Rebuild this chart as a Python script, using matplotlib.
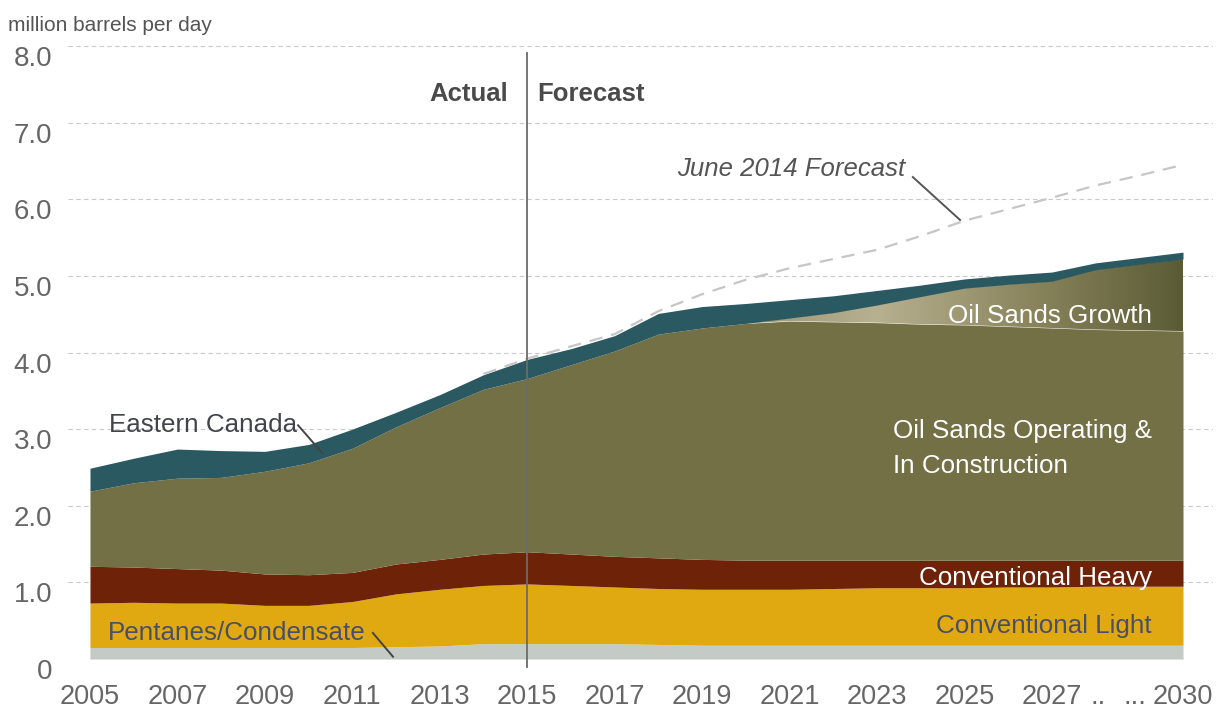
import numpy as np
import matplotlib.pyplot as plt
from matplotlib.colors import LinearSegmentedColormap
from matplotlib.patches import Polygon

years = np.arange(2005, 2031)

# million barrels per day, stacked bottom to top
pentanes = [0.15, 0.15, 0.15, 0.15, 0.15, 0.15, 0.15, 0.16, 0.17, 0.20, 0.20, 0.20, 0.20,
            0.19, 0.18, 0.18, 0.18, 0.18, 0.18, 0.18, 0.18, 0.18, 0.18, 0.18, 0.18, 0.18]
conv_light = [0.58, 0.59, 0.58, 0.58, 0.55, 0.55, 0.60, 0.69, 0.74, 0.76, 0.78, 0.76, 0.74,
              0.73, 0.73, 0.73, 0.73, 0.74, 0.75, 0.75, 0.75, 0.76, 0.76, 0.77, 0.77, 0.77]
conv_heavy = [0.48, 0.46, 0.45, 0.43, 0.41, 0.40, 0.38, 0.39, 0.39, 0.41, 0.42, 0.41, 0.40,
              0.40, 0.39, 0.38, 0.38, 0.37, 0.36, 0.36, 0.36, 0.35, 0.35, 0.34, 0.34, 0.34]
os_operating = [0.98, 1.10, 1.18, 1.21, 1.34, 1.46, 1.62, 1.79, 1.98, 2.15, 2.26, 2.47, 2.68,
                2.92, 3.02, 3.09, 3.12, 3.11, 3.10, 3.08, 3.07, 3.05, 3.03, 3.01, 3.00, 2.99]
os_growth = [0, 0, 0, 0, 0, 0, 0, 0, 0, 0, 0, 0, 0,
             0, 0, 0, 0.04, 0.12, 0.23, 0.36, 0.48, 0.55, 0.61, 0.78, 0.86, 0.94]
eastern = [0.30, 0.32, 0.38, 0.35, 0.26, 0.24, 0.25, 0.19, 0.17, 0.19, 0.25, 0.21, 0.20,
           0.27, 0.28, 0.26, 0.24, 0.22, 0.19, 0.15, 0.12, 0.12, 0.12, 0.09, 0.09, 0.09]

june2014_years = np.arange(2014, 2031)
june2014 = [3.72, 3.92, 4.08, 4.24, 4.54, 4.76, 4.95, 5.10, 5.22, 5.34, 5.52, 5.72, 5.87,
            6.02, 6.18, 6.31, 6.45]

xtick_years = [2005, 2007, 2009, 2011, 2013, 2015, 2017, 2019, 2021, 2023, 2025, 2027, 2030]
yticks = [0, 1, 2, 3, 4, 5, 6, 7, 8]
ytick_labels = ['0', '1.0', '2.0', '3.0', '4.0', '5.0', '6.0', '7.0', '8.0']

FONT = ['Liberation Sans', 'DejaVu Sans']

layers = [
    (pentanes, '#c4cbc6'),
    (conv_light, '#e0a811'),
    (conv_heavy, '#6e2208'),
    (os_operating, '#737046'),
    (os_growth, None),
    (eastern, '#2b5962'),
]

fig = plt.figure(figsize=(12.21, 7.11), dpi=100)
ax = fig.add_axes([68 / 1221, 1 - 659 / 711, 1145 / 1221, 616.8 / 711])
ax.set_xlim(2004.497, 2030.686)
ax.set_ylim(0, 8.05)

bottom = np.zeros(len(years))
for vals, col in layers:
    top = bottom + np.array(vals)
    if col is None:
        # oil sands growth: horizontal gradient clipped to the band
        verts = np.column_stack([np.concatenate([years, years[::-1]]),
                                 np.concatenate([top, bottom[::-1]])])
        poly = Polygon(verts, closed=True, facecolor='none', edgecolor='none')
        ax.add_patch(poly)
        cmap = LinearSegmentedColormap.from_list(
            'growth', [(0, '#9d9674'), (0.3, '#b7b091'), (0.65, '#8a855d'), (1, '#5a5b35')])
        im = ax.imshow(np.linspace(0, 1, 256).reshape(1, -1), cmap=cmap, aspect='auto',
                       extent=[2020, 2030, 0, 8], zorder=2, interpolation='bilinear')
        im.set_clip_path(poly)
    else:
        ax.fill_between(years, bottom, top, color=col, lw=0, zorder=2)
    bottom = top

ax.plot([2005, 2030], [0, 0], color='#d9b48c', lw=1, zorder=3)

ax.plot(june2014_years, june2014, color='#c6c6c6', lw=1.6, ls=(0, (6, 4)), zorder=3)

# actual / forecast split
ax.plot([2015, 2015], [-0.10, 7.91], color='#6b6b6b', lw=1.3, zorder=4, clip_on=False)
ax.text(2014.56, 7.28, 'Actual', ha='right', va='baseline', fontsize=18.5,
        fontweight='bold', color='#4a4a4a', family=FONT)
ax.text(2015.22, 7.28, 'Forecast', ha='left', va='baseline', fontsize=18.5,
        fontweight='bold', color='#4a4a4a', family=FONT)

ax.text(2018.43, 6.31, 'June 2014 Forecast', ha='left', va='baseline', fontsize=18.5,
        style='italic', color='#555555', family=FONT)
ax.plot([2023.82, 2024.9], [6.29, 5.73], color='#555555', lw=1.4, zorder=5)

ax.text(2005.43, 2.96, 'Eastern Canada', ha='left', va='baseline', fontsize=18.7,
        color='#3f454a', family=FONT, zorder=5)
ax.plot([2009.76, 2010.31], [3.05, 2.69], color='#444444', lw=1.4, zorder=5)

ax.text(2005.41, 0.25, 'Pentanes/Condensate', ha='left', va='baseline', fontsize=18.7,
        color='#4a5064', family=FONT, zorder=5)
ax.plot([2011.47, 2011.93], [0.34, 0.03], color='#444444', lw=1.4, zorder=5)

ax.text(2023.37, 2.88, 'Oil Sands Operating &', ha='left', va='baseline', fontsize=18.7,
        color='white', family=FONT, zorder=5)
ax.text(2023.37, 2.43, 'In Construction', ha='left', va='baseline', fontsize=18.7,
        color='white', family=FONT, zorder=5)
ax.text(2029.29, 4.39, 'Oil Sands Growth', ha='right', va='baseline', fontsize=18.7,
        color='white', family=FONT, zorder=5)
ax.text(2029.28, 0.97, 'Conventional Heavy', ha='right', va='baseline', fontsize=18.7,
        color='white', family=FONT, zorder=5)
ax.text(2029.28, 0.34, 'Conventional Light', ha='right', va='baseline', fontsize=18.7,
        color='#4a5064', family=FONT, zorder=5)

# axes styling
for s in ax.spines.values():
    s.set_visible(False)
ax.set_axisbelow(True)
ax.set_yticks(yticks)
ax.set_yticklabels(ytick_labels, family=FONT, fontsize=20, color='#666666')
for lab in ax.get_yticklabels():
    lab.set_verticalalignment('top')
ax.yaxis.grid(True, color='#c9c9c9', ls=(0, (4, 3)), lw=0.8)
ax.yaxis.get_gridlines()[0].set_visible(False)
ax.set_xticks(xtick_years)
ax.set_xticklabels([str(y) for y in xtick_years], family=FONT, fontsize=19.5,
                   color='#666666')
ax.tick_params(axis='y', length=0, pad=11.5)
ax.tick_params(axis='x', length=0, pad=18.2)
ax.text(2028.05, -0.0735, '..', transform=ax.get_xaxis_transform(), ha='center',
        va='baseline', fontsize=19.5, color='#666666', family=FONT)
ax.text(2028.9, -0.0735, '...', transform=ax.get_xaxis_transform(), ha='center',
        va='baseline', fontsize=19.5, color='#666666', family=FONT)

fig.text(8 / 1221, 1 - 31 / 711, 'million barrels per day', ha='left', va='baseline',
         fontsize=15, color='#555555', family=FONT)

fig.savefig('out.png', dpi=100)
